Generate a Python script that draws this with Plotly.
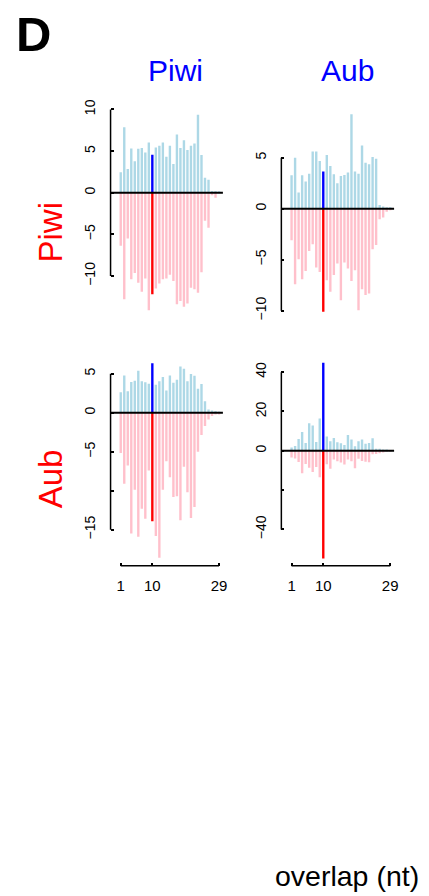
import plotly.graph_objects as go

W, H = 429, 896
FONT = "Liberation Sans, Arial, Helvetica, sans-serif"

positions = list(range(1, 30))
highlight_pos = 10

# Piwi (row) vs Piwi (column)
piwi_piwi_pos = [2.46, 7.86, 2.86, 5.32, 3.77, 5.28, 5.36, 4.84, 6.03, 4.56, 5.44, 5.63, 6.03, 4.33, 5.63,
                 3.45, 6.98, 5.36, 6.31, 5.12, 5.63, 5.91, 9.37, 4.52, 1.79, 1.55, 0.2, 0.2, 0.12]
piwi_piwi_neg = [-6.35, -12.8, -5.48, -10.4, -9.64, -10.8, -11.9, -10.3, -14.1, -12.2, -11.5, -10.9, -10.4,
                 -10.3, -9.84, -10.6, -13.4, -13.0, -13.7, -13.3, -11.4, -11.6, -12.0, -9.56, -3.37, -4.2,
                 -0.3, -0.6, -0.04]
# Piwi (row) vs Aub (column)
piwi_aub_pos = [3.27, 5.0, 1.57, 3.27, 2.65, 3.43, 5.59, 5.59, 4.67, 3.63, 5.26, 4.18, 3.37, 2.48, 3.2,
                3.3, 3.53, 9.25, 3.63, 3.43, 6.18, 4.51, 4.35, 5.07, 4.9, 0.36, 0.2, 0.1, 0.05]
piwi_aub_neg = [-3.1, -7.42, -4.97, -6.93, -6.11, -4.15, -3.5, -5.78, -6.2, -10.1, -7.03, -8.14, -6.5, -5.39,
                -8.99, -5.29, -5.88, -7.09, -6.05, -9.97, -7.91, -8.46, -8.33, -3.99, -3.56, -1.05, -0.88,
                -0.3, -0.07]
# Aub (row) vs Piwi (column)
aub_piwi_pos = [2.63, 4.79, 2.75, 3.94, 4.11, 5.38, 4.03, 3.9, 3.73, 6.36, 3.6, 4.03, 4.58, 2.84, 4.79,
                3.86, 4.24, 5.93, 5.64, 4.03, 4.96, 4.75, 3.09, 3.69, 1.48, 0.42, 0.3, 0.21, 0.08]
aub_piwi_neg = [-5.17, -9.11, -6.78, -15.5, -9.87, -15.9, -12.3, -13.6, -7.42, -13.9, -15.8, -18.6, -9.87,
                -6.23, -8.26, -10.8, -10.7, -13.8, -6.91, -10.2, -13.5, -12.1, -5.0, -2.84, -1.69, -0.85,
                -0.42, -0.21, -0.13]
# Aub (row) vs Aub (column)
aub_aub_pos = [1.7, 2.5, 6.0, 9.5, 4.0, 14.0, 12.8, 4.5, 16.4, 44.8, 7.3, 4.8, 6.5, 4.3, 3.8, 3.0, 8.0,
               5.7, 2.3, 4.8, 5.8, 3.6, 4.0, 6.4, 1.1, 1.0, 0.2, 0.1, 0.05]
aub_aub_neg = [-3.4, -3.9, -5.7, -11.4, -6.7, -8.6, -10.8, -8.3, -13.4, -54.7, -6.8, -9.1, -4.4, -5.3,
               -5.9, -7.0, -4.4, -5.3, -8.9, -4.0, -5.2, -5.6, -5.8, -1.7, -1.6, -1.3, -0.5, -0.2, -0.1]

y_ticks = {
    "pp": ([10, 5, 0, -5, -10], ["10", "5", "0", "\u22125", "\u221210"]),
    "pa": ([5, 0, -5, -10], ["5", "0", "\u22125", "\u221210"]),
    "ap": ([5, 0, -5, -10, -15], ["5", "0", "\u22125", "", "\u221215"]),
    "aa": ([40, 20, 0, -20, -40], ["40", "20", "0", "", "\u221240"]),
}
x_tickvals = [1, 10, 29]
x_ticktext = ["1", "10", "29"]

col_titles = ["Piwi", "Aub"]
row_titles = ["Piwi", "Aub"]
panel_label = "D"
x_label = "overlap (nt)"

POS_COL, NEG_COL = "#ADD8E6", "#FFC0CB"
HI_POS, HI_NEG = "#0000FF", "#FF0000"

# ---- layout geometry (pixels) ----
cols = [(111.6, 225.0), (284.0, 397.8)]
x_range = [-1.9, 30.1]
panels = [
    ("pp", 0, 0, piwi_piwi_pos, piwi_piwi_neg, 188.0, 8.385, 100, 320),
    ("pa", 0, 1, piwi_aub_pos, piwi_aub_neg, 204.0, 10.27, 100, 320),
    ("ap", 1, 0, aub_piwi_pos, aub_piwi_neg, 409.5, 7.85, 355, 563.5),
    ("aa", 1, 1, aub_aub_pos, aub_aub_neg, 447.8, 1.98, 355, 563.5),
]

fig = go.Figure()
layout = dict(
    width=W, height=H, margin=dict(l=0, r=0, t=0, b=0),
    paper_bgcolor="white", plot_bgcolor="white", showlegend=False,
    barmode="overlay", font=dict(family=FONT, color="black", size=14),
)
shapes = []
annotations = []

for i, (key, r, c, pos, neg, y0, ppu, top, bot) in enumerate(panels):
    n = "" if i == 0 else str(i + 1)
    xa, ya = "x" + n, "y" + n
    pcol = [HI_POS if p == highlight_pos else POS_COL for p in positions]
    ncol = [HI_NEG if p == highlight_pos else NEG_COL for p in positions]
    fig.add_trace(go.Bar(x=positions, y=pos, base=0, width=0.68, marker=dict(color=pcol, line_width=0),
                         xaxis=xa, yaxis=ya, hoverinfo="skip"))
    fig.add_trace(go.Bar(x=positions, y=neg, base=0, width=0.68, marker=dict(color=ncol, line_width=0),
                         xaxis=xa, yaxis=ya, hoverinfo="skip"))
    left, right = cols[c]
    yr = [(y0 - bot) / ppu, (y0 - top) / ppu]
    tv, tt = y_ticks[key]
    bottom_row = r == 1
    layout["xaxis" + n] = dict(
        domain=[left / W, right / W], range=x_range, anchor=ya,
        showgrid=False, zeroline=False, showline=False,
        tickvals=x_tickvals if bottom_row else [], ticktext=x_ticktext if bottom_row else [],
        ticks="inside" if bottom_row else "", ticklen=3, tickwidth=1.5, tickcolor="black",
        showticklabels=bottom_row, tickfont=dict(size=15), ticklabelstandoff=9,
    )
    layout["yaxis" + n] = dict(
        domain=[1 - bot / H, 1 - top / H], range=yr, anchor=xa,
        showgrid=False, zeroline=False, showline=False,
        tickvals=tv, ticktext=tt, ticks="inside", ticklen=3, tickwidth=1.5, tickcolor="black",
        tickangle=-90, tickfont=dict(size=14), ticklabelstandoff=12,
    )
    shapes.append(dict(type="line", xref=xa + " domain", yref=ya, x0=0, x1=1, y0=0, y1=0,
                       line=dict(color="black", width=2), layer="above"))
    shapes.append(dict(type="line", xref=xa + " domain", yref=ya, x0=0, x1=0, y0=min(tv), y1=max(tv),
                       line=dict(color="black", width=1.5), layer="above"))
    if bottom_row:
        shapes.append(dict(type="line", xref=xa, yref=ya + " domain", x0=min(x_tickvals),
                           x1=max(x_tickvals), y0=0, y1=0,
                           line=dict(color="black", width=1.5), layer="above"))

for c, t in enumerate(col_titles):
    cx = [177.5, 350.7][c]
    annotations.append(dict(text=t, x=cx / W, y=1 - 64.5 / H, xref="paper", yref="paper",
                            xanchor="center", yanchor="middle", showarrow=False,
                            font=dict(size=30, color=HI_POS, family=FONT)))
for r, t in enumerate(row_titles):
    cy = [227.5, 476.0][r]
    annotations.append(dict(text=t, x=51 / W, y=1 - cy / H, xref="paper", yref="paper",
                            xanchor="center", yanchor="middle", showarrow=False, textangle=-90,
                            font=dict(size=33, color=HI_NEG, family=FONT)))
annotations.append(dict(text="<b>" + panel_label + "</b>", x=33.5 / W, y=1 - 28 / H, xref="paper",
                        yref="paper", xanchor="center", yanchor="middle", showarrow=False,
                        font=dict(size=49, color="black", family=FONT)))
annotations.append(dict(text=x_label, x=350 / W, y=1 - 876 / H, xref="paper", yref="paper",
                        xanchor="center", yanchor="middle", showarrow=False,
                        font=dict(size=28.5, color="black", family=FONT)))

layout["shapes"] = shapes
layout["annotations"] = annotations
fig.update_layout(**layout)
fig.write_html("out.html", config={"displayModeBar": False},
               post_script="document.body.style.margin='0';document.body.style.padding='0';")
